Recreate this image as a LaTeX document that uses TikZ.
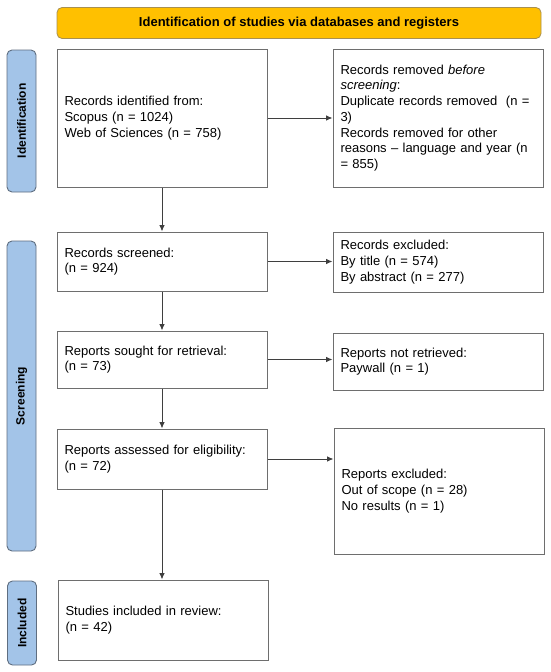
\documentclass[tikz,border=0pt]{standalone}
\usepackage{fontspec}
\setmainfont{Liberation Sans}
\usetikzlibrary{arrows.meta}
\definecolor{boxgray}{HTML}{6E6E6E}
\definecolor{bannerfill}{HTML}{FFC000}
\definecolor{bannerline}{HTML}{A89050}
\definecolor{barfill}{HTML}{A3C4E8}
\definecolor{barline}{HTML}{5F6E80}
\definecolor{arrgray}{HTML}{3F3F3F}
\tikzset{
  flowbox/.style={draw=boxgray, line width=1pt, fill=white, inner xsep=7.5pt, inner ysep=0pt,
    align=left, text width=195pt, minimum width=210pt, font=\fontsize{13}{15.7}\selectfont},
  sidebar/.style={draw=barline, line width=0.9pt, fill=barfill, rounded corners=5pt,
    minimum height=29pt, inner sep=0pt, rotate=90, font=\fontsize{12}{14}\selectfont\bfseries},
  banner/.style={draw=bannerline, line width=0.8pt, fill=bannerfill, rounded corners=5pt,
    minimum width=484pt, minimum height=31pt, inner sep=0pt, font=\fontsize{13}{15}\selectfont\bfseries},
  arr/.style={draw=arrgray, line width=0.9pt, -{Latex[length=6.5pt,width=5.5pt]}}
}
\begin{document}
\begin{tikzpicture}[x=1pt,y=-1pt]
\useasboundingbox (0,0) rectangle (550,672);
\fill[white] (0,0) rectangle (550,672);

\node[banner] (ban) at (299,23) {Identification of studies via databases and registers};

\node[sidebar, minimum width=142pt] (idbar) at (21.5,121) {Identification};
\node[sidebar, minimum width=310pt] (scrbar) at (21.5,396) {Screening};
\node[sidebar, minimum width=84pt] (incbar) at (22,623) {Included};

\node[flowbox, minimum height=138pt] (b1) at (162,118) {Records identified from:\\Scopus (n = 1024)\\Web of Sciences (n = 758)};
\node[flowbox, minimum height=138pt] (r1) at (438,118) {Records removed \textit{before}\\\textit{screening}:\\Duplicate records removed\ \ (n =\\3)\\Records removed for other\\reasons – language and year (n\\= 855)};

\node[flowbox, minimum height=59pt] (b2) at (162,261.5) {Records screened:\\(n = 924)};
\node[flowbox, minimum height=60pt] (r2) at (438,262) {Records excluded:\\By title (n = 574)\\By abstract (n = 277)};

\node[flowbox, minimum height=57pt] (b3) at (162,359.5) {Reports sought for retrieval:\\(n = 73)};
\node[flowbox, minimum height=57pt] (r3) at (438,361.5) {Reports not retrieved:\\Paywall (n = 1)};

\node[flowbox, minimum height=60pt] (b4) at (162,459) {Reports assessed for eligibility:\\(n = 72)};
\node[flowbox, minimum height=126pt] (r4) at (439,491) {Reports excluded:\\Out of scope (n = 28)\\No results (n = 1)};

\node[flowbox, minimum height=80pt] (b5) at (163,620) {Studies included in review:\\(n = 42)};

\draw[arr] (b1.east) -- (b1.east -| r1.west);
\draw[arr] (b2.east) -- (b2.east -| r2.west);
\draw[arr] (b3.east) -- (b3.east -| r3.west);
\draw[arr] (b4.east) -- (b4.east -| r4.west);

\draw[arr] (b1.south) -- (b1.south |- b2.north);
\draw[arr] (b2.south) -- (b2.south |- b3.north);
\draw[arr] (b3.south) -- (b3.south |- b4.north);
\draw[arr] (b4.south) -- (b4.south |- b5.north);
\end{tikzpicture}
\end{document}
